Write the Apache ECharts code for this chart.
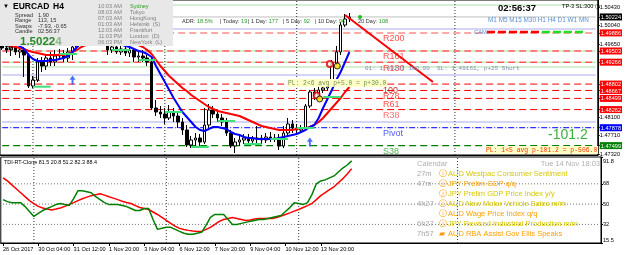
<!DOCTYPE html>
<html><head><meta charset="utf-8">
<script src="https://cdn.jsdelivr.net/npm/echarts@6/dist/echarts.min.js"></script>
<style>html,body{margin:0;padding:0;background:#fff}#c{width:625px;height:255px}</style>
</head><body><div id="c"></div>
<script>
// ---------- data ----------
const ohlc = [
[1.49630,1.49566,1.49524,1.49693],[1.49566,1.49524,1.49460,1.49651],[1.49524,1.49588,1.49397,1.49630],[1.49588,1.49482,1.49418,1.49651],
[1.49482,1.49524,1.49355,1.49588],[1.49524,1.49418,1.48952,1.49588],[1.49418,1.48762,1.48719,1.49460],[1.48762,1.48889,1.48719,1.48973],
[1.48889,1.49270,1.48846,1.49355],[1.49270,1.49185,1.49058,1.49376],[1.49185,1.49355,1.49100,1.49418],[1.49355,1.49270,1.49185,1.49482],
[1.49270,1.49397,1.49185,1.49524],[1.49397,1.49439,1.49312,1.49545],[1.49439,1.49355,1.49270,1.49524],[1.49355,1.49482,1.49270,1.49566],
[1.49482,1.49588,1.49312,1.49693],[1.49588,1.49736,1.49545,1.49842],[1.49736,1.49821,1.49651,1.49905],[1.49821,1.49778,1.49693,1.49948],
[1.49778,1.49863,1.49715,1.49948],[1.49863,1.49799,1.49736,1.49926],[1.49799,1.49757,1.49672,1.49884],[1.49757,1.49672,1.49609,1.49821],
[1.49672,1.49524,1.49418,1.49693],[1.49524,1.49588,1.49460,1.49651],[1.49588,1.49482,1.49439,1.49630],[1.49482,1.49545,1.49418,1.49609],
[1.49545,1.49460,1.49397,1.49588],[1.49460,1.49524,1.49376,1.49588],[1.49524,1.49376,1.49270,1.49566],[1.49376,1.49397,1.49270,1.49482],
[1.49397,1.49355,1.49270,1.49524],[1.49355,1.49270,1.49185,1.49418],[1.49270,1.48296,1.48253,1.49355],[1.48296,1.48211,1.48126,1.48465],
[1.48211,1.48168,1.48084,1.48338],[1.48168,1.48084,1.47957,1.48296],[1.48084,1.48211,1.48041,1.48359],[1.48211,1.48126,1.47999,1.48296],
[1.48126,1.47999,1.47872,1.48211],[1.47999,1.47830,1.47724,1.48084],[1.47830,1.47512,1.47470,1.47935],[1.47512,1.47618,1.47448,1.47703],
[1.47618,1.47660,1.47491,1.47766],[1.47660,1.47575,1.47491,1.47745],[1.47575,1.47935,1.47533,1.48296],[1.47935,1.48253,1.47872,1.48380],
[1.48253,1.48168,1.48084,1.48338],[1.48168,1.48084,1.47999,1.48211],[1.48084,1.47999,1.47914,1.48168],[1.47999,1.47766,1.47703,1.48084],
[1.47766,1.47491,1.47448,1.47830],[1.47491,1.47575,1.47342,1.47660],[1.47575,1.47618,1.47491,1.47724],[1.47618,1.47660,1.47533,1.47745],
[1.47660,1.47597,1.47512,1.47745],[1.47597,1.47639,1.47533,1.47703],[1.47639,1.47660,1.47512,1.47914],[1.47660,1.47618,1.47533,1.47724],
[1.47618,1.47681,1.47554,1.47766],[1.47681,1.47639,1.47575,1.47787],[1.47639,1.47660,1.47575,1.47745],[1.47660,1.47491,1.47406,1.47745],
[1.47491,1.47766,1.47448,1.47914],[1.47766,1.47957,1.47703,1.48084],[1.47957,1.47872,1.47766,1.48041],[1.47872,1.47830,1.47745,1.47957],
[1.47830,1.47872,1.47766,1.47935],[1.47872,1.48338,1.47808,1.48380],[1.48338,1.48634,1.48296,1.48677],[1.48634,1.48550,1.48465,1.48719],
[1.48550,1.48677,1.48507,1.48740],[1.48677,1.48719,1.48613,1.48762],[1.48719,1.48783,1.48656,1.48846],[1.48783,1.49249,1.48740,1.49312],
[1.49249,1.49482,1.49206,1.49609],[1.49482,1.50053,1.49418,1.50117],[1.50053,1.50181,1.50011,1.50286],[1.50181,1.50224,1.50117,1.50308]
];
const maFast = [
1.49778,1.49736,1.49693,1.49651,1.49609,1.49545,1.49418,1.49333,1.49291,1.49291,
1.49291,1.49312,1.49312,1.49333,1.49355,1.49397,1.49482,1.49588,1.49693,1.49778,
1.49842,1.49884,1.49884,1.49863,1.49821,1.49778,1.49715,1.49651,1.49609,1.49588,
1.49545,1.49503,1.49482,1.49439,1.49376,1.49185,1.49016,1.48846,1.48677,1.48507,
1.48359,1.48211,1.48105,1.47999,1.47893,1.47830,1.47808,1.47851,1.47893,1.47893,
1.47872,1.47851,1.47787,1.47745,1.47724,1.47681,1.47660,1.47660,1.47639,1.47639,
1.47639,1.47639,1.47639,1.47660,1.47681,1.47703,1.47724,1.47745,1.47787,1.47830,
1.47893,1.47935,1.48084,1.48296,1.48486,1.48677,1.48889,1.49058,1.49270,1.49482];
const maSlow = [
1.49651,1.49630,1.49609,1.49588,1.49566,1.49545,1.49503,1.49482,1.49460,1.49439,
1.49418,1.49418,1.49418,1.49418,1.49418,1.49439,1.49482,1.49524,1.49588,1.49630,
1.49672,1.49715,1.49736,1.49757,1.49757,1.49757,1.49757,1.49736,1.49715,1.49693,
1.49672,1.49630,1.49588,1.49524,1.49439,1.49312,1.49185,1.49079,1.48973,1.48889,
1.48804,1.48719,1.48656,1.48571,1.48507,1.48444,1.48380,1.48317,1.48274,1.48232,
1.48211,1.48190,1.48168,1.48147,1.48126,1.48084,1.48041,1.47999,1.47957,1.47914,
1.47893,1.47872,1.47851,1.47830,1.47830,1.47830,1.47830,1.47851,1.47872,1.47872,
1.47893,1.47935,1.47999,1.48084,1.48190,1.48296,1.48401,1.48507,1.48634,1.48740];
const tdiPrice = [
54.0,52.2,51.3,51.3,51.3,47.8,43.4,39.1,41.7,44.3,46.1,47.8,49.6,50.5,49.6,48.7,54.8,61.9,61.9,61.0,
60.1,56.6,54.0,51.3,49.6,49.6,49.6,48.7,47.8,46.1,44.3,44.3,46.1,46.1,36.4,27.6,28.5,29.4,29.4,27.6,
25.8,24.1,23.3,23.3,24.1,25.0,31.1,38.2,40.8,40.8,40.8,36.4,32.0,32.0,32.9,33.8,34.7,35.5,36.4,36.4,
37.3,38.2,39.1,39.9,43.4,46.9,51.3,50.5,49.6,51.3,58.4,68.0,70.6,71.5,73.3,75.0,78.5,82.0,84.7,88.4];
const tdiSignal = [
73.3,70.6,67.1,63.6,60.1,56.6,53.1,50.5,48.0,46.5,45.6,44.8,45.6,46.5,48.0,49.6,51.3,53.1,54.8,56.2,
57.5,58.4,59.2,58.0,56.6,55.3,54.0,52.6,51.5,50.5,48.7,47.0,46.1,45.2,43.0,40.8,38.2,35.5,32.9,30.5,
28.5,27.4,26.7,26.2,25.8,25.8,27.6,29.4,32.0,34.7,36.4,37.3,38.2,37.3,36.4,35.5,36.0,36.8,37.3,37.3,
37.3,37.3,38.2,39.5,40.8,42.2,43.8,45.2,47.0,48.7,50.5,54.0,57.5,60.1,62.8,65.4,69.0,72.6,76.8,81.5];
const xTickIdx = [0,8,16,24,32,40,48,56,64,72];
const xTickText = ['26 Oct 2017','30 Oct 04:00','31 Oct 12:00','1 Nov 20:00','3 Nov 04:00','6 Nov 12:00','7 Nov 20:00','9 Nov 04:00','10 Nov 12:00','13 Nov 20:00'];
const daySepIdx = [7,37,67,103];
const priceTicks = [1.50430,1.50040,1.49650,1.48100,1.47710,1.47320];
const boxPrices = [1.50224,1.49886,1.49503,1.49266,1.48802,1.48667,1.48499,1.48262,1.47878,1.47499];
const boxKinds  = ['k','r','r','r','r','r','r','r','b','g'];
const tdiTicks = [91.8,68,50,32,15.5];
const tdiLevels = [68,50,32];
const levelPrices = [1.49886,1.49503,1.49266,1.48802,1.48667,1.48499,1.48262,1.47878,1.47499];
const levelNames  = ['R200','R161','R130','100','R78','R61','R38','Pivot','S38'];
const bidPrice = 1.50224;
const lavenderLines = [1.49969,1.48994,1.47999];
const paleGreenLines = [1.50477,1.49164];
const dayMarkers = [[7,11,1.48747],[13,17,1.49439],[25,29,1.49524],[31,35,1.49312],[37,41,1.48211],[43,47,1.47470],[49,53,1.48020],[55,59,1.47533],[61,65,1.47639],[67,71,1.47872],[73,77,1.48529]];
const trendLine = [[78,1.50265],[98,1.48846]];
const buyArrows = [[16,1.48973],[70,1.47660]];
const redRings = [[72,1.48560],[75,1.49227]];
const yellowDots = [[72,1.48486],[76,1.49185]];
const calTimes = ['27m','47m','','4h27','','6h27','7h57'];
const calEvents = ['AUD Westpac Consumer Sentiment','JPY Prelim GDP q/q','JPY Prelim GDP Price Index y/y','AUD New Motor Vehicle Sales m/m','AUD Wage Price Index q/q','JPY Revised Industrial Production m/m','AUD RBA Assist Gov Ellis Speaks'];
const calImpact = ['y','o','y','y','o','y','o'];
const sessTimes = ['10:03 AM','08:03 AM','07:03 AM','01:03 AM','12:03 AM','11:03 PM','06:03 PM'];
const sessCities = ['Sydney','Tokyo','HongKong','Helsinki  (S)','Frankfurt','London  (D)','NewYork  (L)'];
const infoLabels = ['Spread','Range','Swaps','Candle'];
const infoValues = ['1.90','113, 15','-7.93, -0.65','02:56:37'];
const adrItems = [['ADR: ','18.5%'],['| Today: ','19'],['| 1 Day: ','177'],['| 5 Day: ','92'],['| 10 Day: ','96'],['20 Day: ','108']];

// ---------- build ----------
const NCAT = 136;
const PMIN = 1.47300, PMAX = 1.50583;
const cats = Array.from({length:NCAT},(_,i)=>String(i));
const F = '"Liberation Sans", Arial, sans-serif';
const M = '"Liberation Mono", "DejaVu Sans Mono", monospace';
const boxStyle = {k:'#000000',r:'#ff0000',b:'#0000ff',g:'#008000'};
const rich = {};
Object.keys(boxStyle).forEach(k=>{rich[k]={backgroundColor:boxStyle[k],color:'#fff',fontSize:5.6,fontFamily:F,padding:[1,1,0,1],lineHeight:7};});
const levelStyle = {
 R200:{color:'#ffa8a8',width:2,type:[7,4],lab:'#ff2020'},
 R161:{color:'#ff0000',width:1,type:[7,4],lab:'#ff2020'},
 R130:{color:'#ff0000',width:1,type:[7,4],lab:'#ff2020'},
 '100':{color:'#ff0000',width:1,type:[7,4],lab:'#b00000'},
 R78:{color:'#ff0000',width:1,type:[7,4],lab:'#ff2020'},
 R61:{color:'#ff0000',width:1,type:[7,4],lab:'#ff2020'},
 R38:{color:'#ff0000',width:1,type:[7,4],lab:'#ff5050'},
 Pivot:{color:'#0000ff',width:1,type:[6,2,1,2],lab:'#2030ff'},
 S38:{color:'#008000',width:1.3,type:[7,4],lab:'#2a9a2a'}
};
const series = [];
const seg = (pts,color,width,type,z,xi,yi,off)=>series.push({type:'line',xAxisIndex:xi||0,yAxisIndex:yi||0,data:pts,symbol:'none',silent:true,z:z||1,
  lineStyle:{color,width,type:type||'solid',dashOffset:off||0}});
const hline = (p,color,width,type,off)=>seg([[0,p],[NCAT-1,p]],color,width,type,1,0,0,off);
paleGreenLines.forEach(p=>hline(p,'#a8e0a8',1,'solid'));
lavenderLines.forEach(p=>hline(p,'#d4d4f6',2,'solid'));
hline(bidPrice,'#c0c0c0',1,'solid');
levelPrices.forEach((p,i)=>{const s=levelStyle[levelNames[i]];hline(p,s.color,s.width,s.type);});
[1.49503,1.49266].forEach(p=>hline(p,'#9be89b',1,[4,7],4));
daySepIdx.forEach(i=>seg([[i,PMIN],[i,PMAX]],'#333',1,[1,2],1,0,0));
daySepIdx.forEach(i=>seg([[i,15.5],[i,91.8]],'#333',1,[1,2],1,1,1));
tdiLevels.forEach(v=>seg([[0,v],[NCAT-1,v]],'#777',1,[1,2],1,1,1));

series.push({type:'candlestick',xAxisIndex:0,yAxisIndex:0,data:ohlc,barWidth:3,z:2,
   itemStyle:{color:'#ffffff',color0:'#000000',borderColor:'#000000',borderColor0:'#000000',borderWidth:1}});
series.push({type:'line',xAxisIndex:0,yAxisIndex:0,data:maSlow,symbol:'none',silent:true,lineStyle:{color:'#ff0000',width:2},z:3});
series.push({type:'line',xAxisIndex:0,yAxisIndex:0,data:maFast,symbol:'none',silent:true,lineStyle:{color:'#0000ff',width:2},z:3});
dayMarkers.forEach(d=>seg([[d[0],d[2]],[d[1],d[2]]],'#3ee07a',2,'solid',4));
seg(trendLine,'#ff0000',2,'solid',4);

const upArrow = 'path://M5,0 L10,6 L6.6,6 L6.6,13 L3.4,13 L3.4,6 L0,6 Z';
series.push({type:'scatter',xAxisIndex:0,yAxisIndex:0,data:buyArrows,symbol:upArrow,symbolSize:[6,9],symbolOffset:[0,4],itemStyle:{color:'#1d4fff'},z:5,silent:true});
series.push({type:'scatter',xAxisIndex:0,yAxisIndex:0,data:redRings,symbol:'circle',symbolSize:6,symbolOffset:[-2,0],itemStyle:{color:'#fff',borderColor:'#e00000',borderWidth:2},z:5,silent:true});
series.push({type:'scatter',xAxisIndex:0,yAxisIndex:0,data:yellowDots,symbol:'circle',symbolSize:6,symbolOffset:[1,0],itemStyle:{color:'#ffe000',borderColor:'#000',borderWidth:1},z:6,silent:true});
series.push({type:'scatter',xAxisIndex:0,yAxisIndex:0,silent:true,symbolSize:1,itemStyle:{color:'transparent'},z:6,
   data:levelPrices.map((p,i)=>({value:[87,p],label:{show:true,position:'right',distance:0,offset:[-2,6],formatter:levelNames[i],color:levelStyle[levelNames[i]].lab,fontSize:9,fontFamily:F}}))});
series.push({type:'line',xAxisIndex:1,yAxisIndex:1,data:tdiSignal,symbol:'none',silent:true,lineStyle:{color:'#ff0000',width:1.5},z:3});
series.push({type:'line',xAxisIndex:1,yAxisIndex:1,data:tdiPrice,symbol:'none',silent:true,lineStyle:{color:'#008000',width:1.5},z:3});

const tdiRich = {top:{fontSize:5.6,fontFamily:F,color:'#000',padding:[8,0,0,0]},bot:{fontSize:5.6,fontFamily:F,color:'#000',padding:[0,0,6,0]}};
const option = {
 animation:false,
 backgroundColor:'#ffffff',
 grid:[
  {left:0,right:24,top:0,height:155,show:true,borderColor:'#000',borderWidth:1,backgroundColor:'transparent'},
  {left:0,right:24,top:157,height:86,show:true,borderColor:'#000',borderWidth:1,backgroundColor:'transparent'}
 ],
 xAxis:[
  {type:'category',data:cats,gridIndex:0,boundaryGap:true,axisLine:{show:true,lineStyle:{color:'#000'}},axisTick:{show:false},axisLabel:{show:false},splitLine:{show:false}},
  {type:'category',data:cats,gridIndex:1,boundaryGap:true,axisLine:{show:true,lineStyle:{color:'#000'}},
   axisTick:{show:true,alignWithLabel:true,length:3,interval:(i)=>xTickIdx.includes(i),lineStyle:{color:'#000'}},
   axisLabel:{show:true,interval:(i)=>xTickIdx.includes(i),formatter:(v,i)=>{const k=xTickIdx.indexOf(i);return k>=0?xTickText[k]:'';},align:'left',margin:3,fontSize:5.6,fontFamily:F,color:'#000'},splitLine:{show:false}}
 ],
 yAxis:[
  {type:'value',gridIndex:0,position:'right',min:PMIN,max:PMAX,scale:true,splitLine:{show:false},
   axisLine:{show:true,lineStyle:{color:'#000'}},
   axisTick:{show:true,length:2,customValues:priceTicks.concat(boxPrices),lineStyle:{color:'#000'}},
   axisLabel:{show:true,margin:2,fontSize:5.6,fontFamily:F,color:'#000',customValues:priceTicks.concat(boxPrices),rich,
    formatter:(v)=>{const k=boxPrices.findIndex(b=>Math.abs(b-v)<1e-7);const s=Number(v).toFixed(5);return k>=0?('{'+boxKinds[k]+'|'+s+'}'):s;}}},
  {type:'value',gridIndex:1,position:'right',min:15.5,max:91.8,splitLine:{show:false},
   axisLine:{show:true,lineStyle:{color:'#000'}},
   axisTick:{show:true,length:2,customValues:tdiTicks,lineStyle:{color:'#000'}},
   axisLabel:{show:true,margin:2,fontSize:5.6,fontFamily:F,color:'#000',customValues:tdiTicks,rich:tdiRich,
    formatter:(v)=>{const s=String(v);if(v===tdiTicks[0])return '{top|'+s+'}';if(v===tdiTicks[tdiTicks.length-1])return '{bot|'+s+'}';return s;}}}
 ],
 series
};

// ---------- overlay texts ----------
const T = (x,y,text,font,fill,extra)=>({type:'text',x,y,z:100,silent:true,style:Object.assign({text,fill,font,verticalAlign:'middle'},extra||{})});
const g = [];
g.push({type:'rect',z:99,silent:true,shape:{x:0,y:0,width:173,height:46},style:{fill:'#e8e8e8'}});
g.push(T(3,6,'▼','6px '+F,'#000'));
g.push(T(13,7,'EURCAD','bold 8.5px '+F,'#000'));
g.push(T(53,7,'H4','bold 8.5px '+F,'#000'));
const infoY = [15,20.5,26,31.5];
infoLabels.forEach((s,i)=>{g.push(T(15,infoY[i],s,'5.6px '+F,'#333'));g.push(T(38,infoY[i],infoValues[i],'5.6px '+F,'#333'));});
g.push({type:'text',x:20,y:42,z:100,silent:true,style:{text:'{a|1.5022}{b|4}',verticalAlign:'middle',rich:{a:{fill:'#2a8a2a',font:'bold 11.5px '+F},b:{fill:'#8ab88a',font:'bold 11.5px '+F}}}});
const sessY=[6,12,18,24,30,36,42];
sessTimes.forEach((s,i)=>g.push(T(122,sessY[i],s,'5.6px '+F,'#808080',{align:'right'})));
sessCities.forEach((s,i)=>g.push(T(130,sessY[i],s,'5.6px '+F,i===0?'#2aa02a':'#808080')));
const adrX=[182,220,248,283,315,358];
adrItems.forEach((a,i)=>g.push({type:'text',x:adrX[i],y:21,z:100,silent:true,style:{text:'{l|'+a[0]+'}{v|'+a[1]+'}',verticalAlign:'middle',rich:{l:{fill:'#333',font:'5.6px '+F},v:{fill:'#2a9a2a',font:'5.6px '+F}}}}));
g.push({type:'circle',z:100,silent:true,shape:{cx:360,cy:17,r:2},style:{fill:'#22bb22'}});
g.push(T(517,8.5,'02:56:37','bold 9.5px '+F,'#000',{align:'center'}));
g.push(T(562,6,'TP-3 SL:300 ◷','5.6px '+F,'#000'));
g.push(T(488,20,'M1 M5 M15 M30 H1 H4 D1 W1 MN','6.4px '+F,'#5b8fd0'));
g.push(T(474,32,'CAM','5.8px '+F,'#5b8fd0'));
g.push({type:'line',z:100,silent:true,shape:{x1:487,y1:32,x2:540,y2:32},style:{stroke:'#ff0000',lineWidth:2.5,lineDash:[8,3]}});
g.push({type:'line',z:100,silent:true,shape:{x1:542,y1:32,x2:586,y2:32},style:{stroke:'#22dd22',lineWidth:2.5,lineDash:[8,3]}});
g.push(T(287,83,'PL: 2<6 avg p+5.0 = p+30.0','6.3px '+M,'#6f8f4f',{backgroundColor:'#ffffc8',padding:[1,1,1,1]}));
g.push(T(485,150,'PL: 1<5 avg p-101.2 = p-506.0','6.4px '+M,'#ff3000',{backgroundColor:'#ffffc8',padding:[1,1,1,1]}));
g.push(T(548,135,'-101.2','14px '+F,'#3cb03c'));
g.push(T(365,68,'01: 1.49201 100.00  SL: 1.49161, p+25 Short','6px '+M,'#8090b0'));
g.push(T(5,48,'TM','bold 5.5px '+F,'#000'));
g.push(T(33,79,'D1','5.6px '+F,'#000'));
g.push(T(4,163,'TDI-RT-Clone 81.5 20.8 51.2 82.3 88.4','5.4px '+F,'#000'));
g.push(T(417,164,'Calendar','7.5px '+F,'#b0b0b0'));
g.push(T(600,164,'Tue 14 Nov 18:03','7.5px '+F,'#b0b0b0',{align:'right'}));
const calY=[174,184,194,204,214,224,234];
calEvents.forEach((s,i)=>{
 g.push(T(417,calY[i],calTimes[i],'7.5px '+F,'#a8a8a8'));
 g.push(T(439,calY[i],i===6?'▰':'ⓘ','7.5px '+F,'#ff9900'));
 g.push(T(448,calY[i],s,'7.5px '+F,calImpact[i]==='o'?'#ffa000':'#d8c800'));
});
option.graphic = g;

const chart = echarts.init(document.getElementById('c'),null,{renderer:'canvas'});
chart.setOption(option);
</script></body></html>
